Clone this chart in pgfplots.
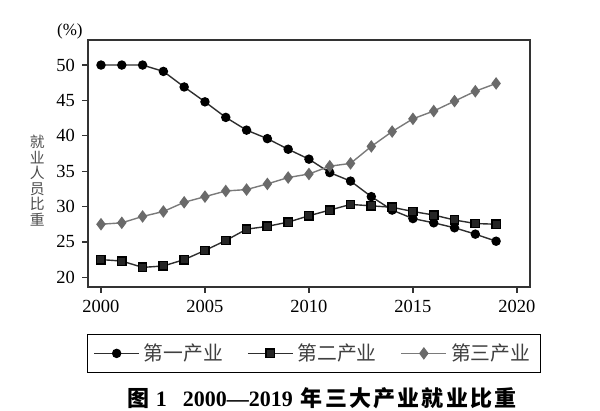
\documentclass[border=0pt]{standalone}
\usepackage{fontspec}
\setmainfont{Liberation Serif}
\newfontfamily\cjk{Noto Sans CJK SC}
\usepackage{pgfplots}
\pgfplotsset{compat=1.18}

% 1 px of the reference = 0.5pt
\definecolor{ln}{HTML}{2E2E2E}
\definecolor{ln3}{HTML}{7A7A7A}
\definecolor{mk3}{HTML}{6A6A6A}
\newcommand{\ck}{\kern1.1pt}

\begin{document}
\begin{tikzpicture}
\useasboundingbox (0,0) rectangle (300pt,205.5pt);
\begin{axis}[
    at={(44pt,62pt)}, anchor=south west,
    scale only axis,
    width=221pt, height=123.5pt,
    xmin=1999.375, xmax=2020.63,
    ymin=18.63, ymax=53.54,
    xtick={2000,2005,...,2020},
    ytick={20,25,...,50},
    tick pos=left,
    tick align=outside,
    major tick length=3pt,
    axis line style={black!80, line width=0.6pt},
    tick style={black!80, line width=0.6pt},
    /pgf/number format/assume math mode=true,
    x tick label style={/pgf/number format/1000 sep={}, font=\fontsize{9.25}{10}\selectfont},
    y tick label style={font=\fontsize{9.25}{10}\selectfont},
    legend columns=3,
    legend style={at={(0.511,-0.19)}, anchor=north, draw=black, line width=0.6pt,
        font=\cjk\fontsize{9.9}{10}\selectfont, text=black!75, inner xsep=3pt, inner ysep=2.5pt,
        /tikz/every even column/.append style={column sep=10pt}},
    legend image code/.code={\draw[mark repeat=2,mark phase=2,#1]
        plot coordinates {(0pt,0pt) (11.25pt,0pt) (22.5pt,0pt)};},
    clip=false,
]
\addplot[ln, line width=0.7pt, mark=*, mark size=2pt, mark options={fill=black, draw=black}]
coordinates {
    (2000,50.0) (2001,50.0) (2002,50.0) (2003,49.1) (2004,46.9)
    (2005,44.8) (2006,42.6) (2007,40.8) (2008,39.6) (2009,38.1)
    (2010,36.7) (2011,34.8) (2012,33.6) (2013,31.4) (2014,29.5)
    (2015,28.3) (2016,27.7) (2017,27.0) (2018,26.1) (2019,25.1)
};
\addlegendentry{第一产业}

\addplot[ln, line width=0.7pt, mark=square*, mark size=2.1pt, mark options={fill=black!85, draw=black}]
coordinates {
    (2000,22.5) (2001,22.3) (2002,21.4) (2003,21.6) (2004,22.5)
    (2005,23.8) (2006,25.2) (2007,26.8) (2008,27.2) (2009,27.8)
    (2010,28.7) (2011,29.5) (2012,30.3) (2013,30.1) (2014,29.9)
    (2015,29.3) (2016,28.8) (2017,28.1) (2018,27.6) (2019,27.5)
};
\addlegendentry{第二产业}

\addplot[ln3, line width=0.7pt, mark=diamond*, mark size=2.6pt, mark options={fill=mk3, draw=mk3}]
coordinates {
    (2000,27.5) (2001,27.7) (2002,28.6) (2003,29.3) (2004,30.6)
    (2005,31.4) (2006,32.2) (2007,32.4) (2008,33.2) (2009,34.1)
    (2010,34.6) (2011,35.7) (2012,36.1) (2013,38.5) (2014,40.6)
    (2015,42.4) (2016,43.5) (2017,44.9) (2018,46.3) (2019,47.4)
};
\addlegendentry{第三产业}

\node[font=\fontsize{8.5}{9}\selectfont] at (rel axis cs:-0.041,1.036) {(\%)};
\node[font=\cjk\fontsize{7.4}{7.75}\selectfont, align=center, text=black!70]
    at (rel axis cs:-0.115,0.43) {就\\业\\人\\员\\比\\重};
\node[font=\bfseries\fontsize{11}{12}\selectfont] at (rel axis cs:0.53,-0.449)
    {{\cjk\bfseries 图}\kern3pt 1\kern8pt 2000—2019\kern4pt{\cjk\bfseries 年\ck 三\ck 大\ck 产\ck 业\ck 就\ck 业\ck 比\ck 重}};
\end{axis}
\end{tikzpicture}
\end{document}
